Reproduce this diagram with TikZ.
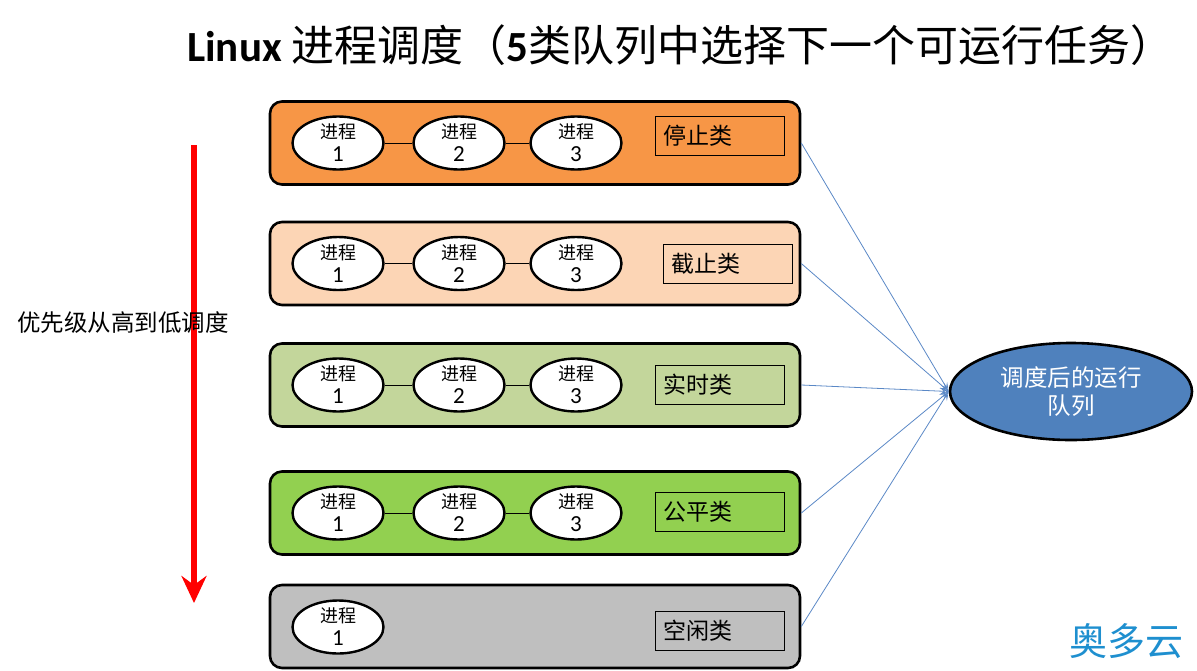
\documentclass[tikz,border=0pt]{standalone}
\usepackage{fontspec}
\setmainfont{Carlito}
\newfontfamily\cjk{Noto Sans CJK SC}
\usetikzlibrary{shapes.geometric,arrows.meta}
\definecolor{cStop}{HTML}{F79646}
\definecolor{cDead}{HTML}{FCD5B5}
\definecolor{cRT}{HTML}{C3D69B}
\definecolor{cFair}{HTML}{92D050}
\definecolor{cIdle}{HTML}{BFBFBF}
\definecolor{cBlue}{HTML}{4F81BD}
\definecolor{cLink}{HTML}{5A88C6}
\definecolor{cMark}{HTML}{1E8FCF}
\newcommand\procnum[1]{{\cjk 进程}\\[2pt]{\fontsize{23}{21}\selectfont #1}}
\tikzset{
  classbox/.style={draw=black, line width=2.6pt, rounded corners=12pt, minimum width=530pt, minimum height=83pt, inner sep=0pt},
  proc/.style={ellipse, draw=black, line width=2.4pt, fill=white, minimum width=91pt, minimum height=53pt, inner sep=0pt},
  ptext/.style={align=center, inner sep=0pt, font=\fontsize{18}{21}\selectfont},
  plink/.style={draw=black, line width=0.8pt},
  labelbox/.style={draw=black, line width=0.9pt, minimum width=129pt, minimum height=39pt, inner sep=0pt, text width=113pt, align=left, font=\cjk\fontsize{23}{26}\selectfont},
  link/.style={draw=cLink, line width=0.8pt, -{Stealth[length=9pt,width=7pt,inset=4pt,open]}},
}
\begin{document}
\begin{tikzpicture}[x=1pt,y=-1pt]
\useasboundingbox (0,0) rectangle (1197,670);
% title
\node[inner sep=0pt, anchor=west] (title) at (187,45) {\fontsize{43}{47}\selectfont\textbf{Linux} {\cjk 进程调度（}\textbf{5}{\cjk 类队列中选择下一个可运行任务）}};
% priority arrow
\coordinate (atop) at (194,145);
\coordinate (abot) at (194,603);
\draw[red, line width=6pt, -{Stealth[length=27pt,width=25pt,inset=9pt]}] (atop) -- (abot);
\node[inner sep=0pt, anchor=west, font=\cjk\fontsize{23.5}{26}\selectfont] (prio) at (17,323) {优先级从高到低调度};
% class boxes
\node[classbox, fill=cStop] (b1) at (535,143) {};
\node[classbox, fill=cDead] (b2) at (535,263.5) {};
\node[classbox, fill=cRT]   (b3) at (535,385) {};
\node[classbox, fill=cFair] (b4) at (535,513) {};
\node[classbox, fill=cIdle] (b5) at (535,626.5) {};
% label boxes
\node[labelbox] (l1) at (719.5,136) {停止类};
\node[labelbox] (l2) at (728,263.5) {截止类};
\node[labelbox] (l3) at (719.5,384.5) {实时类};
\node[labelbox] (l4) at (719.5,512) {公平类};
\node[labelbox] (l5) at (719.5,630.5) {空闲类};
% processes
\foreach \r/\y in {1/143,2/263.5,3/385,4/513}{
  \node[proc] (p\r a) at (338,\y) {};
  \node[proc] (p\r b) at (459,\y) {};
  \node[proc] (p\r c) at (576,\y) {};
  \node[ptext] (t\r a) at (p\r a) {\procnum{1}};
  \node[ptext] (t\r b) at (p\r b) {\procnum{2}};
  \node[ptext] (t\r c) at (p\r c) {\procnum{3}};
  \draw[plink] (p\r a) -- (p\r b);
  \draw[plink] (p\r b) -- (p\r c);
}
\node[proc] (p5a) at (338,627) {};
\node[ptext] (t5a) at (p5a) {\procnum{1}};
% run queue
\node[ellipse, draw=black, line width=2.6pt, fill=cBlue, minimum width=242pt, minimum height=97pt, inner sep=0pt] (rq) at (1071,391.5) {};
\node[inner sep=0pt, align=center, text=white, font=\cjk\fontsize{23.5}{28}\selectfont] (rqt) at (rq) {调度后的运行\\队列};
% connectors
\foreach \b in {b1,b2,b3,b4,b5}{
  \draw[link] (\b.east) -- (rq.west);
}
% watermark
\node[inner sep=0pt, anchor=west, text=cMark, font=\cjk\fontsize{38}{40}\selectfont] (mark) at (1069,641) {奥多云};
\end{tikzpicture}
\end{document}
